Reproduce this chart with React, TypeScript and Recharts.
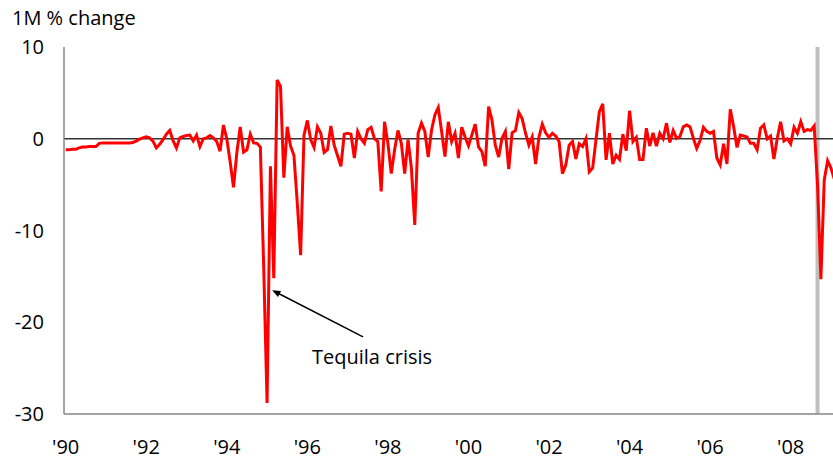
import { LineChart, Line, XAxis, YAxis, ReferenceLine } from 'recharts';

// monthly % change, Jan 1990 onwards
const m1990_1994 = [
  -1.2, -1.2, -1.15, -1.15, -1.0, -0.9, -0.9, -0.85, -0.85, -0.85, -0.5, -0.45,
  -0.45, -0.45, -0.45, -0.45, -0.45, -0.45, -0.45, -0.45, -0.4, -0.25, -0.05, 0.1,
  0.2, 0.1, -0.25, -1.0, -0.6, -0.1, 0.5, 0.9, -0.2, -1.0, 0.1, 0.25,
  0.35, 0.4, -0.25, 0.4, -0.85, 0.0, 0.1, 0.35, 0.1, -0.3, -1.35, 1.5,
  0.0, -2.5, -5.3, -1.5, 1.3, -1.45, -1.2, 0.5, -0.45, -0.5, -0.9, -14.0,
];
const m1995_1999 = [
  -28.8, -3.0, -15.2, 6.4, 5.7, -4.25, 1.3, -0.8, -1.8, -7.0, -12.7, 0.4,
  2.0, -0.1, -0.95, 1.3, 0.6, -1.5, -1.2, 1.4, -0.7, -1.85, -3.0, 0.5,
  0.6, 0.5, -2.1, 0.8, 0.0, -0.5, 1.0, 1.25, 0.0, -0.3, -5.75, 1.85,
  -0.5, -3.8, -1.2, 0.9, -0.5, -3.8, -0.1, -3.2, -9.4, 0.6, 1.7, 0.8,
  -2.0, 0.95, 2.6, 3.4, 0.8, -1.95, 1.85, -0.3, 0.6, -2.1, 1.25, 0.2,
];
const m2000_2004 = [
  -0.75, 0.4, 1.6, -0.9, -1.4, -3.0, 3.5, 2.05, -0.7, -2.0, 0.05, 0.8,
  -3.3, 0.65, 0.9, 2.85, 2.2, 0.6, -0.7, 0.2, -2.75, 0.2, 1.6, 0.65,
  0.15, 0.6, 0.3, -0.3, -3.8, -2.85, -0.7, -0.3, -2.2, -0.55, -0.85, 0.0,
  -3.6, -3.2, -0.1, 2.95, 3.8, -2.3, 0.6, -2.75, -1.8, -2.25, 0.5, -1.3,
  3.05, -0.3, 0.15, -2.25, -2.25, 1.15, -0.8, 0.65, -0.8, 0.6, 0.0, 1.7,
];
const m2005_2009 = [
  -0.4, 0.9, 0.05, 0.25, 1.3, 1.5, 1.3, 0.05, -1.05, -0.2, 1.25, 0.8,
  0.6, 0.8, -2.1, -2.85, -0.55, -2.75, 3.2, 1.3, -0.95, 0.4, 0.3, 0.2,
  -0.5, -0.5, -1.2, 1.15, 1.5, 0.0, 0.3, -2.2, 0.05, 1.85, -0.25, 0.0,
  -0.55, 1.25, 0.6, 1.85, 0.8, 1.0, 0.9, 1.4, -5.0, -15.3, -4.5, -2.4,
  -3.2, -4.4,
];

const yearTicks = [0, 24, 48, 72, 96, 120, 144, 168, 192, 216];
const yearLabels = ["'90", "'92", "'94", "'96", "'98", "'00", "'02", "'04", "'06", "'08"];
const valueTicks = [-30, -20, -10, 0, 10];
const lehmanMonth = 224;

const values = [...m1990_1994, ...m1995_1999, ...m2000_2004, ...m2005_2009];
const data = values.map((v, i) => ({ i, v }));

const font = '"Open Sans", sans-serif';

const Arrow = (props: any) => {
  const { x1, y1, x2, y2 } = props;
  if (x1 == null) return null;
  // arrow head at (x1, y1)
  const ang = Math.atan2(y2 - y1, x2 - x1);
  const len = 9;
  const spread = 0.38;
  const p1x = x1 + len * Math.cos(ang + spread);
  const p1y = y1 + len * Math.sin(ang + spread);
  const p2x = x1 + len * Math.cos(ang - spread);
  const p2y = y1 + len * Math.sin(ang - spread);
  return (
    <g>
      <line x1={x1 + 4 * Math.cos(ang)} y1={y1 + 4 * Math.sin(ang)} x2={x2} y2={y2} stroke="#000" strokeWidth={1.5} />
      <polygon points={`${x1},${y1} ${p1x},${p1y} ${p2x},${p2y}`} fill="#000" />
      <text x={x2 + 9} y={y2 + 27} textAnchor="middle" fontFamily={font} fontSize={20} fill="#000">
        Tequila crisis
      </text>
    </g>
  );
};

export default function App() {
  return (
    <div style={{ position: 'fixed', left: 0, top: 0, width: 833, height: 466, overflow: 'hidden', background: '#fff' }}>
      <div style={{ position: 'absolute', left: 12, top: 4, fontFamily: font, fontSize: 20, color: '#000' }}>
        1M % change
      </div>
      <LineChart width={836} height={466} data={data} margin={{ top: 47, right: 0, left: 0, bottom: 22 }}>
        <XAxis
          type="number"
          dataKey="i"
          domain={[-0.5, values.length - 0.5]}
          ticks={yearTicks}
          interval={0}
          tickFormatter={(v) => yearLabels[yearTicks.indexOf(v)]}
          tickLine={false}
          tickSize={0}
          tickMargin={26}
          height={30}
          axisLine={{ stroke: '#868686', strokeWidth: 1.5 }}
          tick={{ fill: '#000', fontSize: 20, fontFamily: font }}
        />
        <YAxis
          type="number"
          domain={[-30, 10]}
          ticks={valueTicks}
          interval={0}
          width={64}
          tickLine={false}
          tickSize={0}
          tickMargin={20}
          axisLine={{ stroke: '#868686', strokeWidth: 1.5 }}
          tick={{ fill: '#000', fontSize: 20, fontFamily: font }}
        />
        <ReferenceLine x={lehmanMonth} stroke="#bfbfbf" strokeWidth={4} />
        <ReferenceLine y={0} stroke="#333" strokeWidth={1.5} />
        <Line
          type="linear"
          dataKey="v"
          stroke="#ff0000"
          strokeWidth={3}
          dot={false}
          isAnimationActive={false}
        />
        <ReferenceLine
          segment={[{ x: 61.5, y: -16.5 }, { x: 88.6, y: -21.6 }]}
          shape={Arrow}
        />
      </LineChart>
    </div>
  );
}
